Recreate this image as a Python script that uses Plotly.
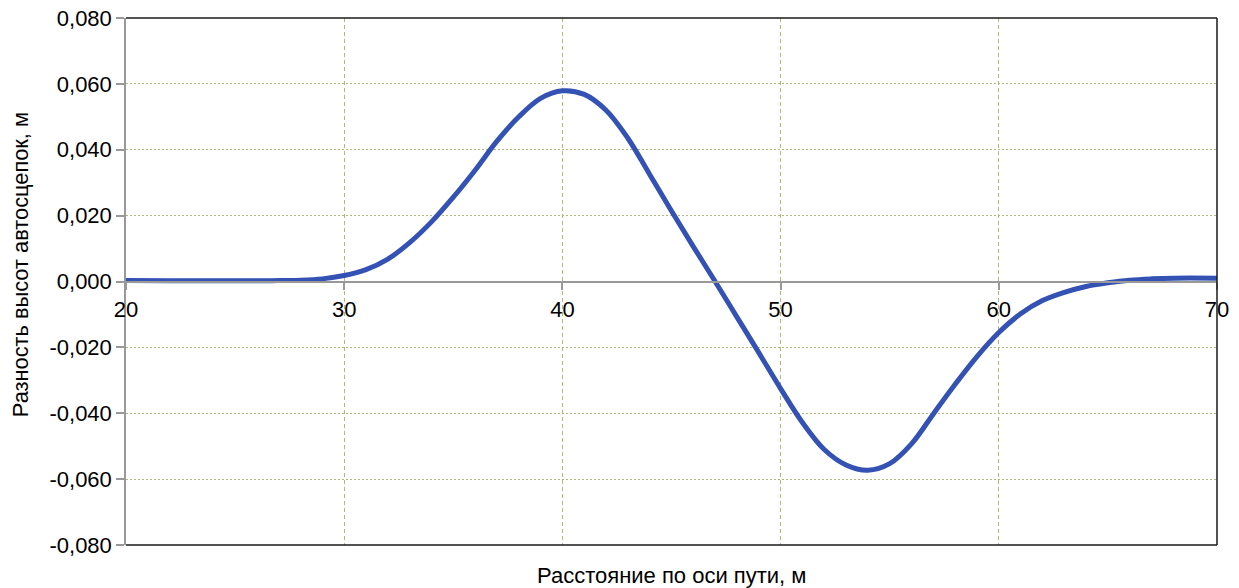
import plotly.graph_objects as go

# distance along track, m
distance = [20, 22, 24, 26, 27, 28, 29, 30, 31, 32, 33, 34, 35, 36, 37, 38, 39, 40,
            41, 42, 43, 44, 45, 46, 47, 48, 49, 50, 51, 52, 53, 54, 55, 56, 57, 58,
            59, 60, 61, 62, 63, 64, 65, 66, 67, 68, 70]
# coupler height difference, m
height_diff = [0.0003, 0.0002, 0.0002, 0.0002, 0.0003, 0.0004, 0.0008, 0.0018, 0.0036,
               0.0068, 0.0118, 0.0181, 0.0256, 0.0338, 0.0426, 0.0500, 0.0556, 0.0579,
               0.0568, 0.0520, 0.0435, 0.0325, 0.0214, 0.0106, 0.0, -0.0108, -0.0216,
               -0.0325, -0.0428, -0.0510, -0.0557, -0.0573, -0.0553, -0.0493, -0.0402,
               -0.0312, -0.0228, -0.0155, -0.0098, -0.0058, -0.0033, -0.0015, -0.0004,
               0.0004, 0.0008, 0.0010, 0.0010]

y_tickvals = [-0.08, -0.06, -0.04, -0.02, 0.0, 0.02, 0.04, 0.06, 0.08]
y_ticktext = ["-0,080", "-0,060", "-0,040", "-0,020", "0,000", "0,020", "0,040", "0,060", "0,080"]
x_tickvals = [20, 30, 40, 50, 60, 70]
x_ticktext = ["20", "30", "40", "50", "60", "70"]

x_title = "Расстояние по оси пути, м"
y_title = "Разность высот автосцепок, м"

FONT = "Liberation Sans, Arial, sans-serif"
GRID = "#b5b57e"

fig = go.Figure()
fig.add_trace(go.Scatter(
    x=distance, y=height_diff, mode="lines",
    line=dict(color="#3352b3", width=5, shape="spline", smoothing=1.0),
    showlegend=False, hoverinfo="skip",
))

fig.update_layout(
    width=1239, height=588,
    margin=dict(l=126, r=22, t=18, b=43, autoexpand=False),
    paper_bgcolor="white", plot_bgcolor="white",
    font=dict(family=FONT, color="#000000", size=22),
    shapes=[
        dict(type="line", xref="paper", yref="paper", x0=0, x1=1, y0=1, y1=1,
             line=dict(color="#1a1a1a", width=1.5), layer="above"),
        dict(type="line", xref="paper", yref="paper", x0=1, x1=1, y0=0, y1=1,
             line=dict(color="#1a1a1a", width=1.5), layer="above"),
        dict(type="line", xref="paper", yref="paper", x0=0, x1=1, y0=0, y1=0,
             line=dict(color="#1a1a1a", width=1.5), layer="above"),
    ],
    annotations=[
        dict(text=x_title, xref="paper", yref="paper", x=0.5, y=0, yshift=-30,
             showarrow=False, xanchor="center", yanchor="middle",
             font=dict(family=FONT, size=22, color="#000000")),
        dict(text=y_title, xref="paper", yref="paper", x=0, xshift=-106, y=0.531,
             textangle=-90, showarrow=False, xanchor="center", yanchor="middle",
             font=dict(family=FONT, size=21.8, color="#000000")),
    ],
)

fig.update_xaxes(
    range=[20, 70], tickvals=x_tickvals, ticktext=x_ticktext,
    anchor="free", position=0.5, automargin=False,
    showline=True, linecolor="#999999", linewidth=1.5,
    ticks="outside", ticklen=8, tickcolor="#999999", tickwidth=1.5,
    showgrid=True, gridcolor=GRID, griddash="4px,3px", gridwidth=1,
    zeroline=False, tickfont=dict(size=22),
)
fig.update_yaxes(
    range=[-0.08, 0.08], tickvals=y_tickvals, ticktext=y_ticktext, automargin=False,
    showline=True, linecolor="#999999", linewidth=1.5,
    ticks="outside", ticklen=8, tickcolor="#999999", tickwidth=1.5,
    showgrid=True, gridcolor=GRID, griddash="2px,2px", gridwidth=1,
    zeroline=False, tickfont=dict(size=22),
)

fig.write_html("out.html", config={"displayModeBar": False},
               post_script="document.body.style.margin='0px';")
